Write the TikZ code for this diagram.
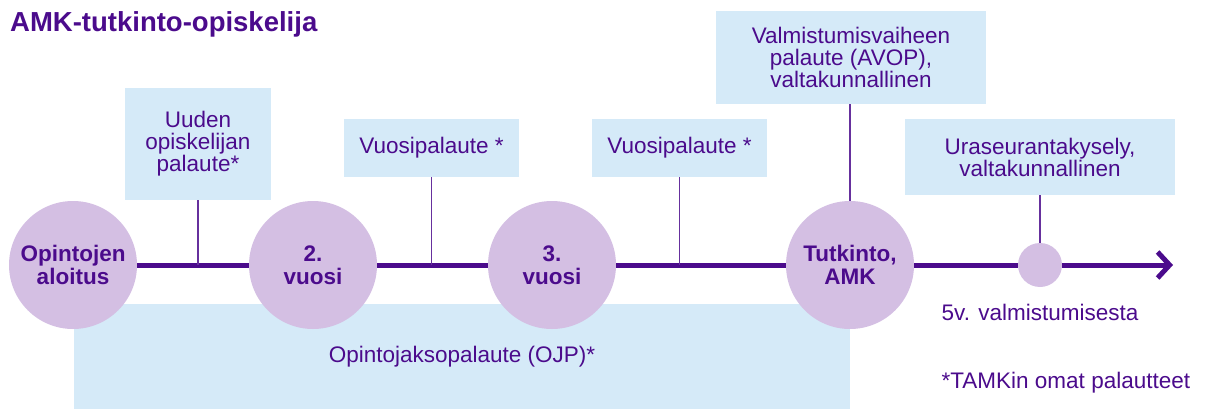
\documentclass[tikz,border=0pt]{standalone}
\usepackage{fontspec}
\setmainfont{Liberation Sans}
\usepackage{tikz}
\usetikzlibrary{arrows.meta}
\usepackage{xcolor}
\definecolor{tamkpurple}{HTML}{4B0B8C}
\definecolor{lavender}{HTML}{D4BFE3}
\definecolor{skyblue}{HTML}{D5EAF8}

\begin{document}
\begin{tikzpicture}[x=1pt, y=-1pt,
	every node/.style={text=tamkpurple, font=\fontsize{22.5}{22}\selectfont, inner sep=0pt},
	phase/.style={circle, fill=lavender, minimum size=128pt, align=center, font=\fontsize{22.5}{23}\selectfont\bfseries},
	survey/.style={fill=skyblue, align=center},
	stem/.style={tamkpurple!85, line width=1.5pt},
	track/.style={tamkpurple, line width=5pt}]
	\useasboundingbox (0,0) rectangle (1206,409);
	\node[survey, minimum width=776pt, minimum height=105pt] (ojp) at (462,356.5) {Opintojaksopalaute (OJP)*};
	\node[phase] (alku) at (73,265) {Opintojen\\aloitus};
	\node[phase] (v2) at (313,265) {2.\\vuosi};
	\node[phase] (v3) at (552,265) {3.\\vuosi};
	\node[phase] (tutk) at (850,265) {Tutkinto,\\AMK};
	\node[circle, fill=lavender, minimum size=44pt] (ura5) at (1040,265) {};
	\coordinate (loppu) at (1173,265);
	\node[survey, minimum width=146pt, minimum height=112pt] (uusi) at (198,144) {Uuden\\opiskelijan\\palaute*};
	\node[survey, minimum width=175pt, minimum height=58pt] (vp1) at (431.5,148) {Vuosipalaute *};
	\node[survey, minimum width=175pt, minimum height=58pt] (vp2) at (679.5,148) {Vuosipalaute *};
	\node[survey, minimum width=270pt, minimum height=93pt] (avop) at (851,57.5) {Valmistumisvaiheen\\palaute (AVOP),\\valtakunnallinen};
	\node[survey, minimum width=270pt, minimum height=76pt] (ura) at (1040,157) {Uraseurantakysely,\\valtakunnallinen};
	\node[font=\fontsize{27.5}{30}\selectfont\bfseries, anchor=base west] (otsikko) at (10,32) {AMK-tutkinto-opiskelija};
	\node (vuotta) at (1040,312) {5v. valmistumisesta};
	\node[anchor=west] (oma) at (vuotta.west |- 0,383) {*TAMKin omat palautteet};
	\draw[track] (alku) -- (v2);
	\draw[track] (v2) -- (v3);
	\draw[track] (v3) -- (tutk);
	\draw[track] (tutk) -- (ura5);
	\draw[track, -{Straight Barb[length=12pt, width=26pt]}] (ura5) -- (loppu);
	\draw[stem] (uusi.south) -- (uusi.south |- alku.center);
	\draw[stem] (vp1.south) -- (vp1.south |- alku.center);
	\draw[stem] (vp2.south) -- (vp2.south |- alku.center);
	\draw[stem] (avop.south -| tutk.north) -- (tutk.north);
	\draw[stem] (ura.south) -- (ura5.north);
\end{tikzpicture}
\end{document}
